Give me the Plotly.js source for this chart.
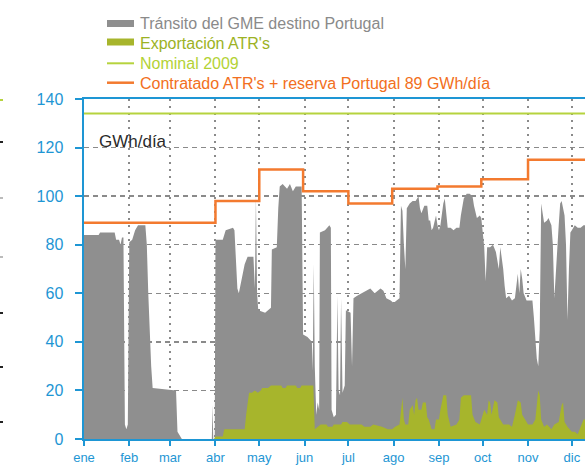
<!DOCTYPE html>
<html>
<head>
<meta charset="utf-8">
<script src="https://cdn.plot.ly/plotly-3.0.1.min.js"></script>
<style>html,body{margin:0;padding:0;background:#fff;}#chart{width:585px;height:465px;}</style>
</head>
<body>
<div id="chart"></div>
<script>
// ---- data (day of year, GWh/día) ----
var transitoDia = [0,10,11,21,22,24,25,26,27,28,29,30,31,33,35,37,42,43,44,45,46,47,63,64,66,67,87.5,88,88.5,89.5,90,95,97,102,103,104,105,106,108,110,112,116,117,117.7,118.5,119.3,124,128,128.6,132,133,134,136,139,141,143,145,149,150,153,156,156.6,157.3,158,159,160,161,161.5,165,168,169,169.5,171,172.5,173.5,174.3,175.3,176,177,178.5,179.3,182.5,183.5,184.5,187,190,194,196,199,203,205,207,210,212,214,216,217,218,219,220,221,223,225,227,229,230,231,233,235,236,237,238,239,241,242,243,244,246,247,248,249,251,253,255,257,258,260,262,264,266,267,269,271,272,273,274,275,276,278,280,282,284,285,286,287,288,289,291,293,295,296,297,298,299,300,301,303,305,307,308,310,311,312,313,314,315,317,318,320,321,322,323,324,325,326,327,328,329,330,331,332,333,334,336,338,340,342,344];
var transitoGWh = [84,84,85,85,82,82,80,83,83,6,4,6,81,82,86,88,88,80,60,42,30,21,20,3,1,0,0,14,0,0,82,82,86,87,86,72,62,60,66,72,75,75,62,100,60,53,52,54,78,79,95,104,105,103,105,102,104,104,43,42,40,28,72,30,10,15,12,85,86,88,87,12,9,10,59,20,18,58,19,22,53,52,30,58,59,60,61,62,60,62,61,58,57,56,57,58,96,94,80,70,95,97,98,98,100,95,93,96,96,90,90,86,87,92,88,86,88,97,99,92,87,87,86,87,87,92,99,101,101,100,96,91,92,91,85,79,65,79,79,80,77,70,79,75,70,63,58,59,57,58,63,68,60,70,66,60,57,57,57,50,33,30,45,97,92,89,90,91,88,80,58,70,80,88,97,98,95,92,80,49,70,85,86,88,87,87,88,88];

var exportDia = [88,89,90,95,96,110,111,112,113,115,117,119,121,122,126,128,135,136,138,139,145,146,148,149,155,157,158,160,162,166,167,170,171,176,177,180,182,190,192,196,198,204,208,211,213,216,217,218,219,220,222,223,225,226,227,228,229,231,232,234,235,236,238,240,241,243,244,246,248,249,251,255,257,258,260,265,266,268,271,272,274,276,277,278,279,281,283,284,287,291,293,295,297,299,300,302,304,307,309,311,312,313,315,317,320,322,325,327,328,329,331,334,336,338,340,342,344];
var exportGWh = [0,0,1,1,4,4,10,16,19,19,20,19,20,21,21,22,22,21,21,22,22,21,21,22,22,22,4,5,6,6,5,5,6,6,7,7,6,6,5,5,6,5,4,4,5,6,12,17,8,6,6,12,14,10,16,17,12,12,15,15,9,8,4,4,8,8,12,18,18,10,5,6,8,17,18,18,10,7,6,8,12,10,16,15,10,16,15,9,6,6,5,10,16,15,10,8,6,6,8,20,18,8,5,6,4,6,7,14,15,7,5,3,3,2,5,8,8];

var nominalDia = [0, 365];
var nominalGWh = [134, 134];

var contratoDia = [0,90,120,150,181,211,242,272,304,365];
var contratoGWh = [89,98,111,102,97,103,104,107,115,115];

var mesDia = [0,31,59,90,120,151,181,212,243,273,304,334];
var mesEtiqueta = ['ene','feb','mar','abr','may','jun','jul','ago','sep','oct','nov','dic'];
var yTicks = [0,20,40,60,80,100,120,140];

// ---- styles ----
var FONT = 'Liberation Sans, Arial, sans-serif';
var BLUE = '#1e96d4';
var GRAY = '#8f8f8f';
var OLIVE = '#a7b52c';
var LGREEN = '#b6d33e';
var ORANGE = '#f37a2f';

var traces = [
  {x: transitoDia, y: transitoGWh, type: 'scatter', mode: 'lines', fill: 'tozeroy',
   fillcolor: GRAY, line: {width: 0, color: GRAY}, hoverinfo: 'skip'},
  {x: exportDia, y: exportGWh, type: 'scatter', mode: 'lines', fill: 'tozeroy',
   fillcolor: OLIVE, line: {width: 0, color: OLIVE}, hoverinfo: 'skip'},
  {x: nominalDia, y: nominalGWh, type: 'scatter', mode: 'lines',
   line: {width: 2, color: LGREEN}, hoverinfo: 'skip'},
  {x: contratoDia, y: contratoGWh, type: 'scatter', mode: 'lines',
   line: {width: 2.5, color: ORANGE, shape: 'hv'}, hoverinfo: 'skip'}
];

function px(x){ return (x - 84) / 501; }
function py(y){ return (439 - y) / 340; }

var shapes = [
  {type:'rect', xref:'paper', yref:'paper', x0:px(107), x1:px(134), y0:py(27), y1:py(20), fillcolor:GRAY, line:{width:0}},
  {type:'rect', xref:'paper', yref:'paper', x0:px(107), x1:px(134), y0:py(45.5), y1:py(38.5), fillcolor:OLIVE, line:{width:0}},
  {type:'line', xref:'paper', yref:'paper', x0:px(107), x1:px(134), y0:py(63.3), y1:py(63.3), line:{width:2, color:LGREEN}},
  {type:'line', xref:'paper', yref:'paper', x0:px(107), x1:px(134), y0:py(82.7), y1:py(82.7), line:{width:2.5, color:ORANGE}}
];
// cropped remnants at the left edge
var marks = [[100, LGREEN],[142,'#222'],[198,'#bbb'],[257,'#bbb'],[313,'#222'],[367,'#222'],[422,'#222']];
marks.forEach(function(m){
  shapes.push({type:'line', xref:'paper', yref:'paper', x0:px(0), x1:px(3), y0:py(m[0]), y1:py(m[0]), line:{width:2, color:m[1]}});
});

var annotations = [
  {xref:'paper', yref:'paper', x:px(138), y:py(24), xanchor:'left', yanchor:'middle', showarrow:false,
   text:'Tránsito del GME destino Portugal', font:{family:FONT, size:16, color:'#8a8a8a'}},
  {xref:'paper', yref:'paper', x:px(138), y:py(44), xanchor:'left', yanchor:'middle', showarrow:false,
   text:"Exportación ATR's", font:{family:FONT, size:16, color:'#9cb224'}},
  {xref:'paper', yref:'paper', x:px(138), y:py(63.5), xanchor:'left', yanchor:'middle', showarrow:false,
   text:'Nominal 2009', font:{family:FONT, size:16, color:'#b3d235'}},
  {xref:'paper', yref:'paper', x:px(138), y:py(83.5), xanchor:'left', yanchor:'middle', showarrow:false,
   text:"Contratado ATR's + reserva Portugal 89 GWh/día", font:{family:FONT, size:16, color:'#f26f21'}},
  {xref:'paper', yref:'paper', x:px(97), y:py(141), xanchor:'left', yanchor:'middle', showarrow:false,
   text:'GWh/día', font:{family:FONT, size:17, color:'#2a2a2a'}}
];

var layout = {
  width: 585, height: 465,
  margin: {l: 84, r: 0, t: 99, b: 26, pad: 0},
  paper_bgcolor: '#ffffff', plot_bgcolor: '#ffffff',
  showlegend: false,
  font: {family: FONT},
  xaxis: {
    range: [0, 343], tickmode: 'array', tickvals: mesDia, ticktext: mesEtiqueta,
    ticks: 'outside', ticklen: 5, tickwidth: 2, tickcolor: BLUE,
    showline: true, linecolor: BLUE, linewidth: 2, mirror: true,
    showgrid: true, gridcolor: '#8a8a8a', gridwidth: 2, griddash: '2px,5px',
    zeroline: false, tickfont: {family: FONT, size: 13, color: BLUE}, fixedrange: true
  },
  yaxis: {
    range: [0, 140], tickmode: 'array', tickvals: yTicks,
    ticks: 'outside', ticklen: 7, tickwidth: 2, tickcolor: BLUE,
    showline: true, linecolor: BLUE, linewidth: 2.5,
    showgrid: true, gridcolor: '#8a8a8a', gridwidth: 1.5, griddash: '5px,4px',
    zeroline: false, ticklabelstandoff: 8,
    tickfont: {family: FONT, size: 16, color: BLUE}, fixedrange: true
  },
  shapes: shapes,
  annotations: annotations
};

Plotly.newPlot('chart', traces, layout, {displayModeBar: false, staticPlot: true});
</script>
</body>
</html>
